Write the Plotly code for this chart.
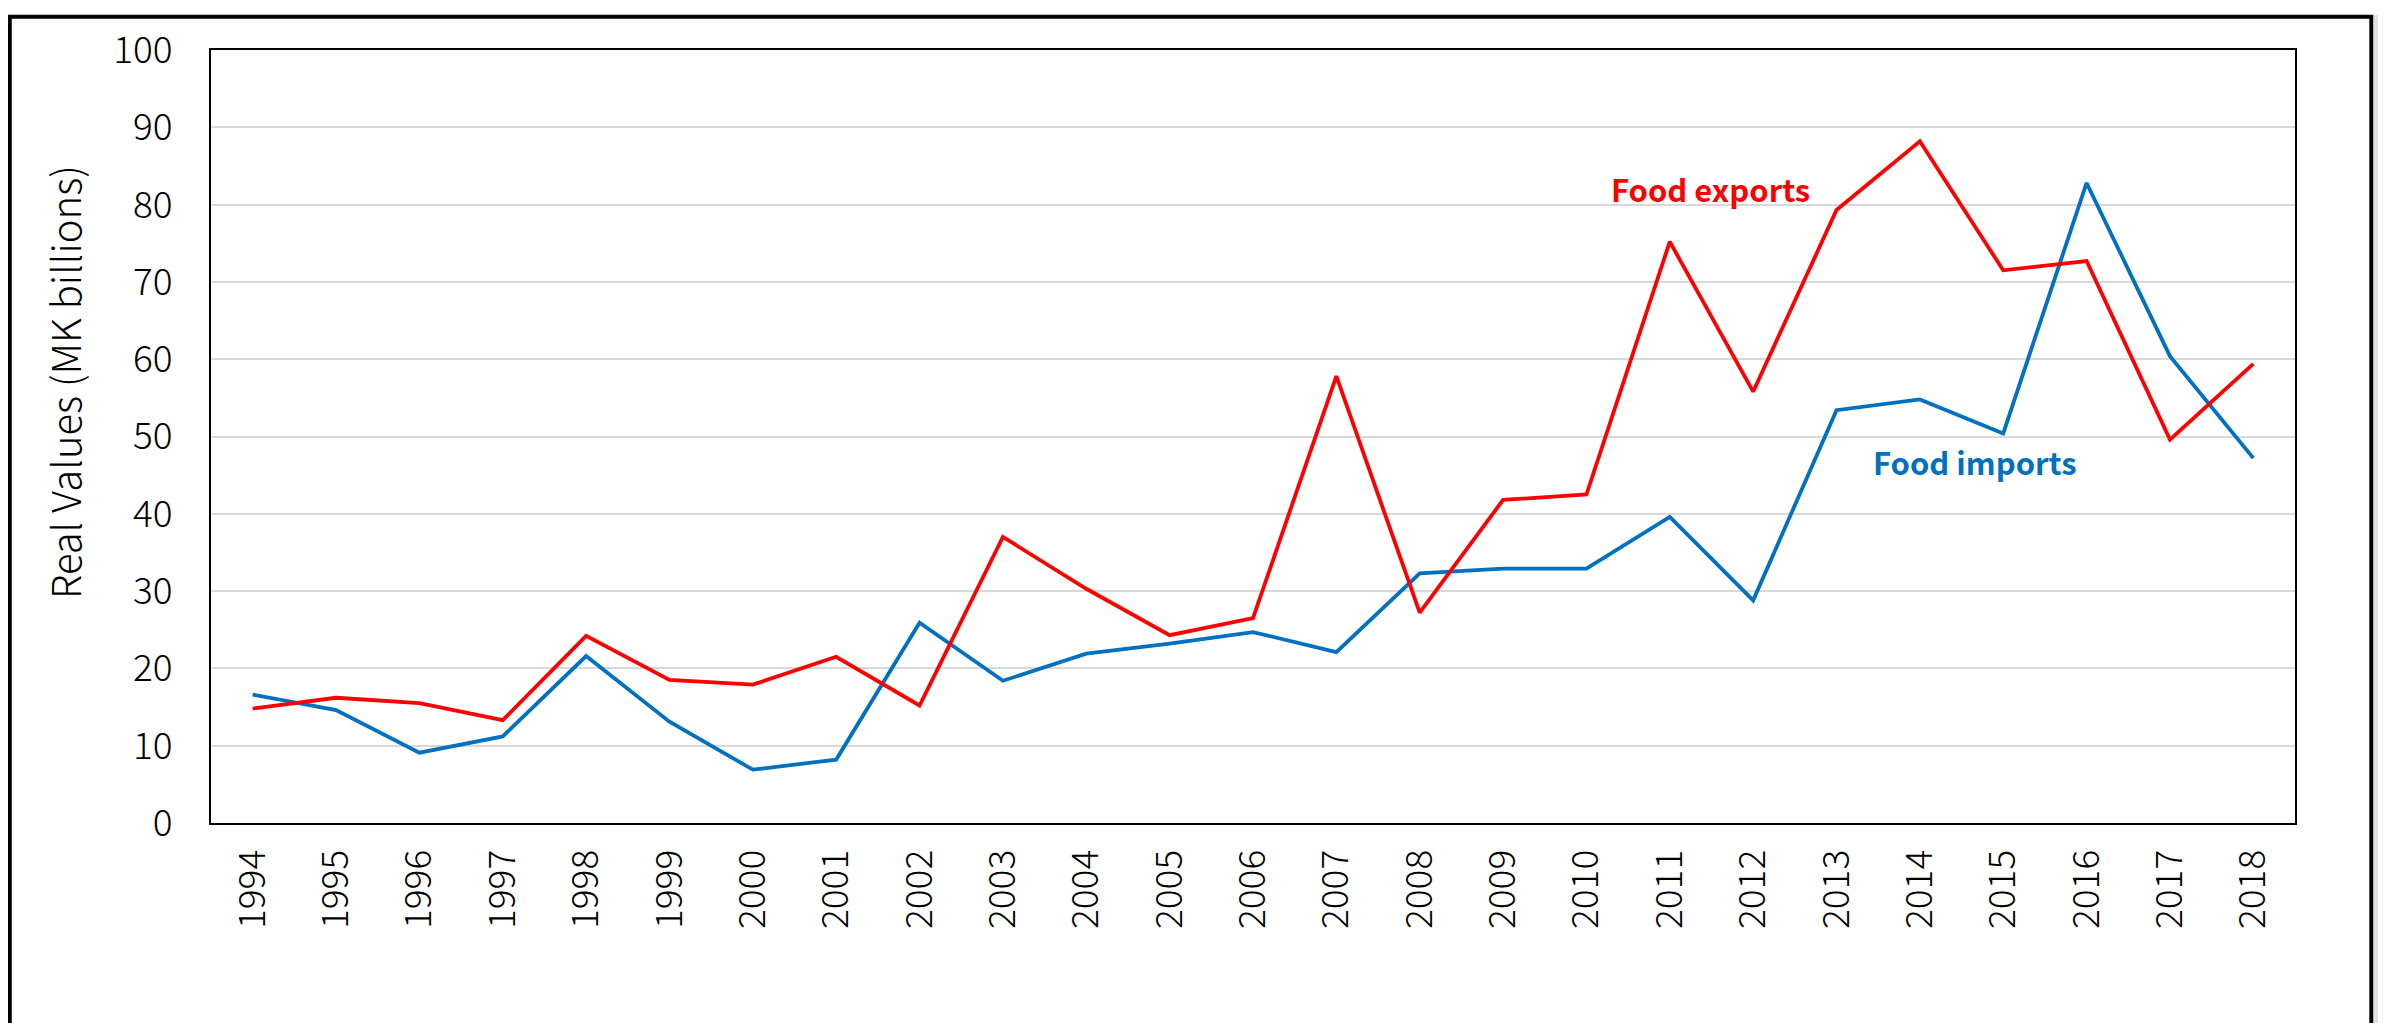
import plotly.graph_objects as go

years = [str(y) for y in range(1994, 2019)]
food_imports = [16.6, 14.6, 9.1, 11.2, 21.6, 13.1, 6.9, 8.2, 25.9, 18.4, 21.9, 23.2, 24.7, 22.1,
                32.3, 32.9, 32.9, 39.6, 28.8, 53.4, 54.8, 50.4, 82.8, 60.4, 47.2]
food_exports = [14.8, 16.2, 15.5, 13.3, 24.2, 18.5, 17.9, 21.5, 15.2, 37.0, 30.3, 24.3, 26.5, 57.8,
                27.2, 41.8, 42.5, 75.2, 55.8, 79.3, 88.2, 71.5, 72.7, 49.6, 59.4]
y_ticks = [0, 10, 20, 30, 40, 50, 60, 70, 80, 90, 100]

OFF = 8  # page body margin
W, H = 2386 - OFF, 1023 - OFF
# plot-area edges in page pixels
PL, PR, PT, PB = 211, 2295, 43, 823
L, R, T, B = PL - OFF, PR - OFF, PT - OFF, PB - OFF

def px(x):  # page pixel -> paper x
    return (x - PL) / (PR - PL)

def py(y):  # page pixel -> paper y
    return (PB - y) / (PB - PT)

FONT = "Noto Sans CJK JP"
RED = "#FF0000"
BLUE = "#0070C0"

fig = go.Figure()
fig.add_trace(go.Scatter(x=years, y=food_imports, mode="lines", name="Food imports",
                         line=dict(color=BLUE, width=3.8)))
fig.add_trace(go.Scatter(x=years, y=food_exports, mode="lines", name="Food exports",
                         line=dict(color=RED, width=3.8)))

fig.update_layout(
    width=W, height=H,
    margin=dict(l=L, r=W - R, t=T, b=H - B, pad=0),
    paper_bgcolor="white", plot_bgcolor="white",
    showlegend=False,
    font=dict(family=FONT, color="black", size=37, weight=300),
)
fig.update_xaxes(type="category", range=[-0.5, 24.5], tickangle=-90,
                 showline=True, linecolor="black", linewidth=2, mirror=True,
                 showgrid=False, ticks="outside", ticklen=10, tickcolor="rgba(0,0,0,0)",
                 tickfont=dict(family=FONT, size=37, color="black", weight=300))
fig.update_yaxes(range=[0, 100], tickvals=y_ticks, ticktext=[str(v) for v in y_ticks],
                 showline=True, linecolor="black", linewidth=2, mirror=True,
                 showgrid=True, gridcolor="#D9D9D9", gridwidth=1.5, zeroline=False,
                 ticks="outside", ticklen=29, tickcolor="rgba(0,0,0,0)",
                 tickfont=dict(family=FONT, size=37, color="black", weight=300))

# y-axis title
fig.add_annotation(xref="paper", yref="paper", x=px(64), y=py(378), text="Real Values (MK billions)",
                   showarrow=False, textangle=-90,
                   font=dict(family=FONT, size=40, color="black", weight=300),
                   xanchor="center", yanchor="middle")
# series labels
fig.add_annotation(xref="paper", yref="paper", x=px(1710), y=py(183), text="Food exports",
                   showarrow=False, font=dict(family=FONT, size=31, color=RED, weight=700),
                   xanchor="center", yanchor="middle")
fig.add_annotation(xref="paper", yref="paper", x=px(1975), y=py(458), text="Food imports",
                   showarrow=False, font=dict(family=FONT, size=31, color=BLUE, weight=700),
                   xanchor="center", yanchor="middle")

# right-side grey strip outside the frame and the frame itself
fig.add_shape(type="rect", xref="paper", yref="paper", x0=px(2374), x1=px(2386), y0=py(1040), y1=py(OFF),
              line=dict(width=0), fillcolor="#E2E2E2", layer="below")
fig.add_shape(type="rect", xref="paper", yref="paper", x0=px(9.8), x1=px(2371.3), y0=py(1040), y1=py(OFF + 1.5),
              line=dict(width=4, color="black"), fillcolor="rgba(0,0,0,0)", layer="above")

fig.write_html("out.html")
